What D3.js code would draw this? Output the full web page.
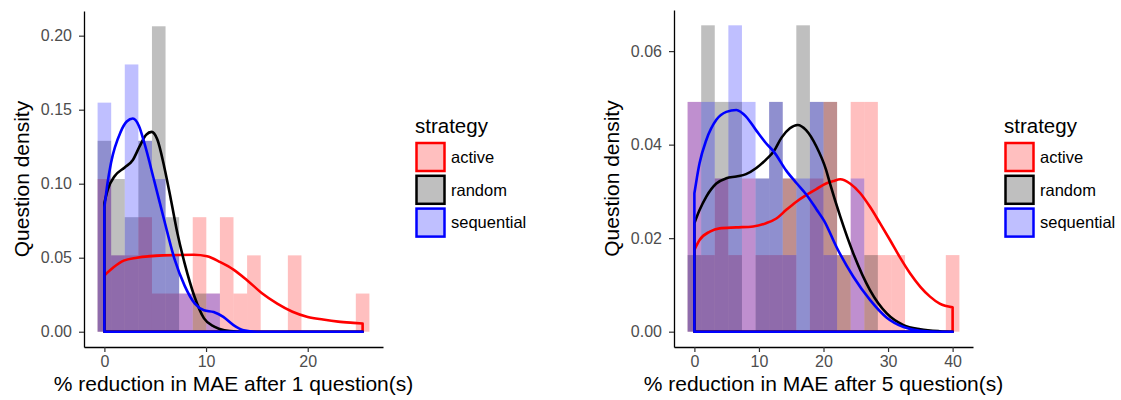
<!DOCTYPE html>
<html>
<head>
<meta charset="utf-8">
<script src="https://cdn.jsdelivr.net/npm/d3@7"></script>
<style>
  body { margin: 0; background: #fff; }
  svg { font-family: "Liberation Sans", Arial, Helvetica, sans-serif; }
</style>
</head>
<body>
<svg id="chart" width="1121" height="400"></svg>
<script>
let strategies = ['active', 'random', 'sequential']
let strategyColors = ['red', 'black', 'blue']
let nQuestions = 29
let nBins = 20

// after 1 question: histogram counts per bin, bins centred on 0 .. max
let maxReduction1 = 25.4
let active1Counts = [4, 2, 2, 3, 1, 1, 1, 3, 1, 3, 1, 2, 0, 0, 2, 0, 0, 0, 0, 1]
let random1Counts = [5, 4, 3, 5, 8, 3, 0, 1, 0, 0, 0, 0, 0, 0, 0, 0, 0, 0, 0, 0]
let sequential1Counts = [6, 2, 7, 5, 4, 2, 1, 0, 1, 0, 0, 0, 0, 0, 0, 0, 0, 0, 0, 0]

// density curves, [reduction, density]
let active1Density = [[0, 0.038], [0.9, 0.0435], [1.9, 0.048], [3.2, 0.050], [5.8, 0.0516], [8.8, 0.052],
    [10.1, 0.051], [11.4, 0.047], [12.7, 0.042], [14.0, 0.035], [15.5, 0.026], [17.0, 0.019], [18.5, 0.0135],
    [20.0, 0.010], [21.5, 0.0082], [23.0, 0.0068], [24.5, 0.006], [25.4, 0.0056]]
let random1Density = [[0, 0.087], [0.33, 0.096], [1.0, 0.105], [2.0, 0.111], [2.8, 0.116], [3.45, 0.125],
    [4.1, 0.133], [4.65, 0.135], [5.2, 0.13], [5.9, 0.111], [6.55, 0.089], [7.2, 0.066], [7.9, 0.046],
    [8.85, 0.024], [9.8, 0.009], [10.8, 0.0034], [11.8, 0.001], [13, 0.0002], [15, 0], [25.4, 0]]
let sequential1Density = [[0, 0.084], [0.3, 0.100], [0.65, 0.114], [1.6, 0.135], [2.2, 0.142], [2.8, 0.144],
    [3.4, 0.139], [3.95, 0.127], [4.9, 0.102], [5.9, 0.075], [6.9, 0.049], [7.9, 0.031], [8.9, 0.019],
    [9.8, 0.0145], [10.75, 0.0133], [11.7, 0.010], [12.7, 0.0045], [13.7, 0.001], [15, 0], [25.4, 0]]

// after 5 questions
let maxReduction5 = 40
let active5Counts = [3, 1, 2, 1, 2, 1, 1, 2, 0, 2, 3, 1, 3, 3, 1, 1, 0, 0, 0, 1]
let random5Counts = [1, 4, 3, 3, 0, 2, 3, 2, 4, 3, 3, 1, 0, 1, 0, 0, 0, 0, 0, 0]
let sequential5Counts = [3, 3, 2, 4, 3, 2, 3, 1, 2, 3, 1, 0, 2, 0, 0, 0, 0, 0, 0, 0]

let active5Density = [[0, 0.0175], [0.8, 0.0196], [2.4, 0.0214], [3.9, 0.0221], [6.5, 0.0223], [9.1, 0.0225],
    [11.1, 0.0232], [12.7, 0.0242], [14.2, 0.026], [15.8, 0.0278], [17.3, 0.0292], [18.9, 0.0305],
    [20.4, 0.0317], [21.5, 0.0322], [22.6, 0.0326], [24.1, 0.0317], [25.7, 0.0296], [27.2, 0.0267],
    [28.75, 0.0232], [30.3, 0.0196], [31.8, 0.016], [33.4, 0.0125], [35, 0.0096], [36.5, 0.0075],
    [38, 0.006], [40, 0.0052]]
let random5Density = [[0, 0.0232], [0.8, 0.026], [1.85, 0.0289], [3.4, 0.0317], [4.95, 0.0328], [6.5, 0.0332],
    [8.0, 0.0337], [9.6, 0.0350], [11.1, 0.0368], [12.3, 0.0386], [13.5, 0.0415], [14.8, 0.0435],
    [16.0, 0.0442], [17.3, 0.0431], [18.9, 0.0396], [20.4, 0.0346], [21.0, 0.0317], [22.6, 0.0246],
    [24.6, 0.0168], [27.2, 0.0089], [29.8, 0.0039], [32.4, 0.0014], [35, 0.0005], [38, 0.0001], [40, 0]]
let sequential5Density = [[0, 0.0296], [0.4, 0.033], [0.8, 0.036], [1.85, 0.041], [3.4, 0.0453], [4.95, 0.047],
    [6.5, 0.0474], [8.0, 0.046], [9.6, 0.043], [11.1, 0.0403], [12.3, 0.0385], [14.2, 0.0345], [15.8, 0.0318],
    [17.3, 0.0294], [18.9, 0.0262], [20.1, 0.0237], [22.05, 0.018], [24.6, 0.0118], [27.2, 0.0068],
    [29.8, 0.003], [32.4, 0.001], [35, 0.0002], [38, 0], [40, 0]]

let yTicks1 = [0, 0.05, 0.10, 0.15, 0.20]
let xTicks1 = [0, 10, 20]
let yTicks5 = [0, 0.02, 0.04, 0.06]
let xTicks5 = [0, 10, 20, 30, 40]

let svg = d3.select('#chart')

function drawPanel(opts) {
    let binWidth = opts.maxX / (nBins - 1)
    let hists = opts.counts.map((counts, s) => counts.map((c, i) => ({
        strategy: s,
        x0: (i - 0.5) * binWidth,
        x1: (i + 0.5) * binWidth,
        density: c / (nQuestions * binWidth)
    })))

    let xMin = -0.5 * binWidth, xMax = opts.maxX + 0.5 * binWidth
    let xPad = (xMax - xMin) * 0.05
    let x = d3.scaleLinear()
        .domain([xMin - xPad, xMax + xPad])
        .range([opts.left, opts.right])

    let yMax = d3.max(hists.flat(), d => d.density)
    let y = d3.scaleLinear()
        .domain([-yMax * 0.05, yMax * 1.05])
        .range([opts.bottom, opts.top])

    let g = svg.append('g')

    // histogram bars, alpha 0.25 like ggplot
    hists.forEach((bins, s) => {
        g.append('g').selectAll('rect')
            .data(bins.filter(b => b.density > 0))
            .enter().append('rect')
            .attr('x', d => x(d.x0))
            .attr('width', d => x(d.x1) - x(d.x0))
            .attr('y', d => y(d.density))
            .attr('height', d => y(0) - y(d.density))
            .attr('fill', strategyColors[s])
            .attr('fill-opacity', 0.25)
    })

    // density outlines, closed down to the baseline
    let line = d3.line()
        .x(d => x(d[0]))
        .y(d => y(d[1]))
        .curve(d3.curveMonotoneX)
    opts.densities.forEach((pts, s) => {
        let first = pts[0], last = pts[pts.length - 1]
        let path = 'M' + x(first[0]) + ',' + y(0) + 'L' + line(pts).slice(1) +
            'L' + x(last[0]) + ',' + y(0) + 'Z'
        g.append('path')
            .attr('d', path)
            .attr('fill', 'none')
            .attr('stroke', strategyColors[s])
            .attr('stroke-width', 2.6)
            .attr('stroke-linejoin', 'round')
    })

    let xAxis = g.append('g')
        .attr('transform', 'translate(0,' + opts.bottom + ')')
        .call(d3.axisBottom(x).tickValues(opts.xTicks).tickSize(5).tickSizeOuter(0).tickPadding(4))
    let yAxis = g.append('g')
        .attr('transform', 'translate(' + opts.left + ',0)')
        .call(d3.axisLeft(y).tickValues(opts.yTicks).tickFormat(d3.format('.2f'))
            .tickSize(5).tickSizeOuter(0).tickPadding(7))
    ;[xAxis, yAxis].forEach(ax => {
        ax.select('.domain').attr('stroke', '#000').attr('stroke-width', 1.3)
        ax.selectAll('.tick line').attr('stroke', '#333').attr('stroke-width', 1.2)
        ax.selectAll('.tick text').attr('fill', '#4d4d4d').style('font-size', '16px')
    })

    g.append('text')
        .attr('x', (opts.left + opts.right) / 2)
        .attr('y', 391)
        .attr('text-anchor', 'middle')
        .style('font-size', '21px')
        .text(opts.xTitle)

    g.append('text')
        .attr('transform', 'translate(' + (opts.left - 55.5) + ',' + ((opts.top + opts.bottom) / 2) + ') rotate(-90)')
        .attr('text-anchor', 'middle')
        .style('font-size', '21px')
        .text('Question density')

    // legend
    let legend = g.append('g').attr('transform', 'translate(' + opts.legendX + ',0)')
    legend.append('text')
        .attr('x', 0)
        .attr('y', 133)
        .style('font-size', '20.5px')
        .text('strategy')
    strategies.forEach((name, s) => {
        let top = 143 + s * 32.8
        legend.append('rect')
            .attr('x', 1.5)
            .attr('y', top)
            .attr('width', 28)
            .attr('height', 28)
            .attr('fill', strategyColors[s])
            .attr('fill-opacity', 0.25)
            .attr('stroke', strategyColors[s])
            .attr('stroke-width', 2.5)
        legend.append('text')
            .attr('x', 36)
            .attr('y', top + 14)
            .attr('dy', '0.35em')
            .style('font-size', '16.5px')
            .text(name)
    })
}

drawPanel({
    maxX: maxReduction1,
    counts: [active1Counts, random1Counts, sequential1Counts],
    densities: [active1Density, random1Density, sequential1Density],
    xTicks: xTicks1, yTicks: yTicks1,
    left: 84, right: 383, top: 11, bottom: 347,
    xTitle: '% reduction in MAE after 1 question(s)',
    legendX: 415
})

drawPanel({
    maxX: maxReduction5,
    counts: [active5Counts, random5Counts, sequential5Counts],
    densities: [active5Density, random5Density, sequential5Density],
    xTicks: xTicks5, yTicks: yTicks5,
    left: 674, right: 973, top: 10, bottom: 347,
    xTitle: '% reduction in MAE after 5 question(s)',
    legendX: 1004
})
</script>
</body>
</html>
